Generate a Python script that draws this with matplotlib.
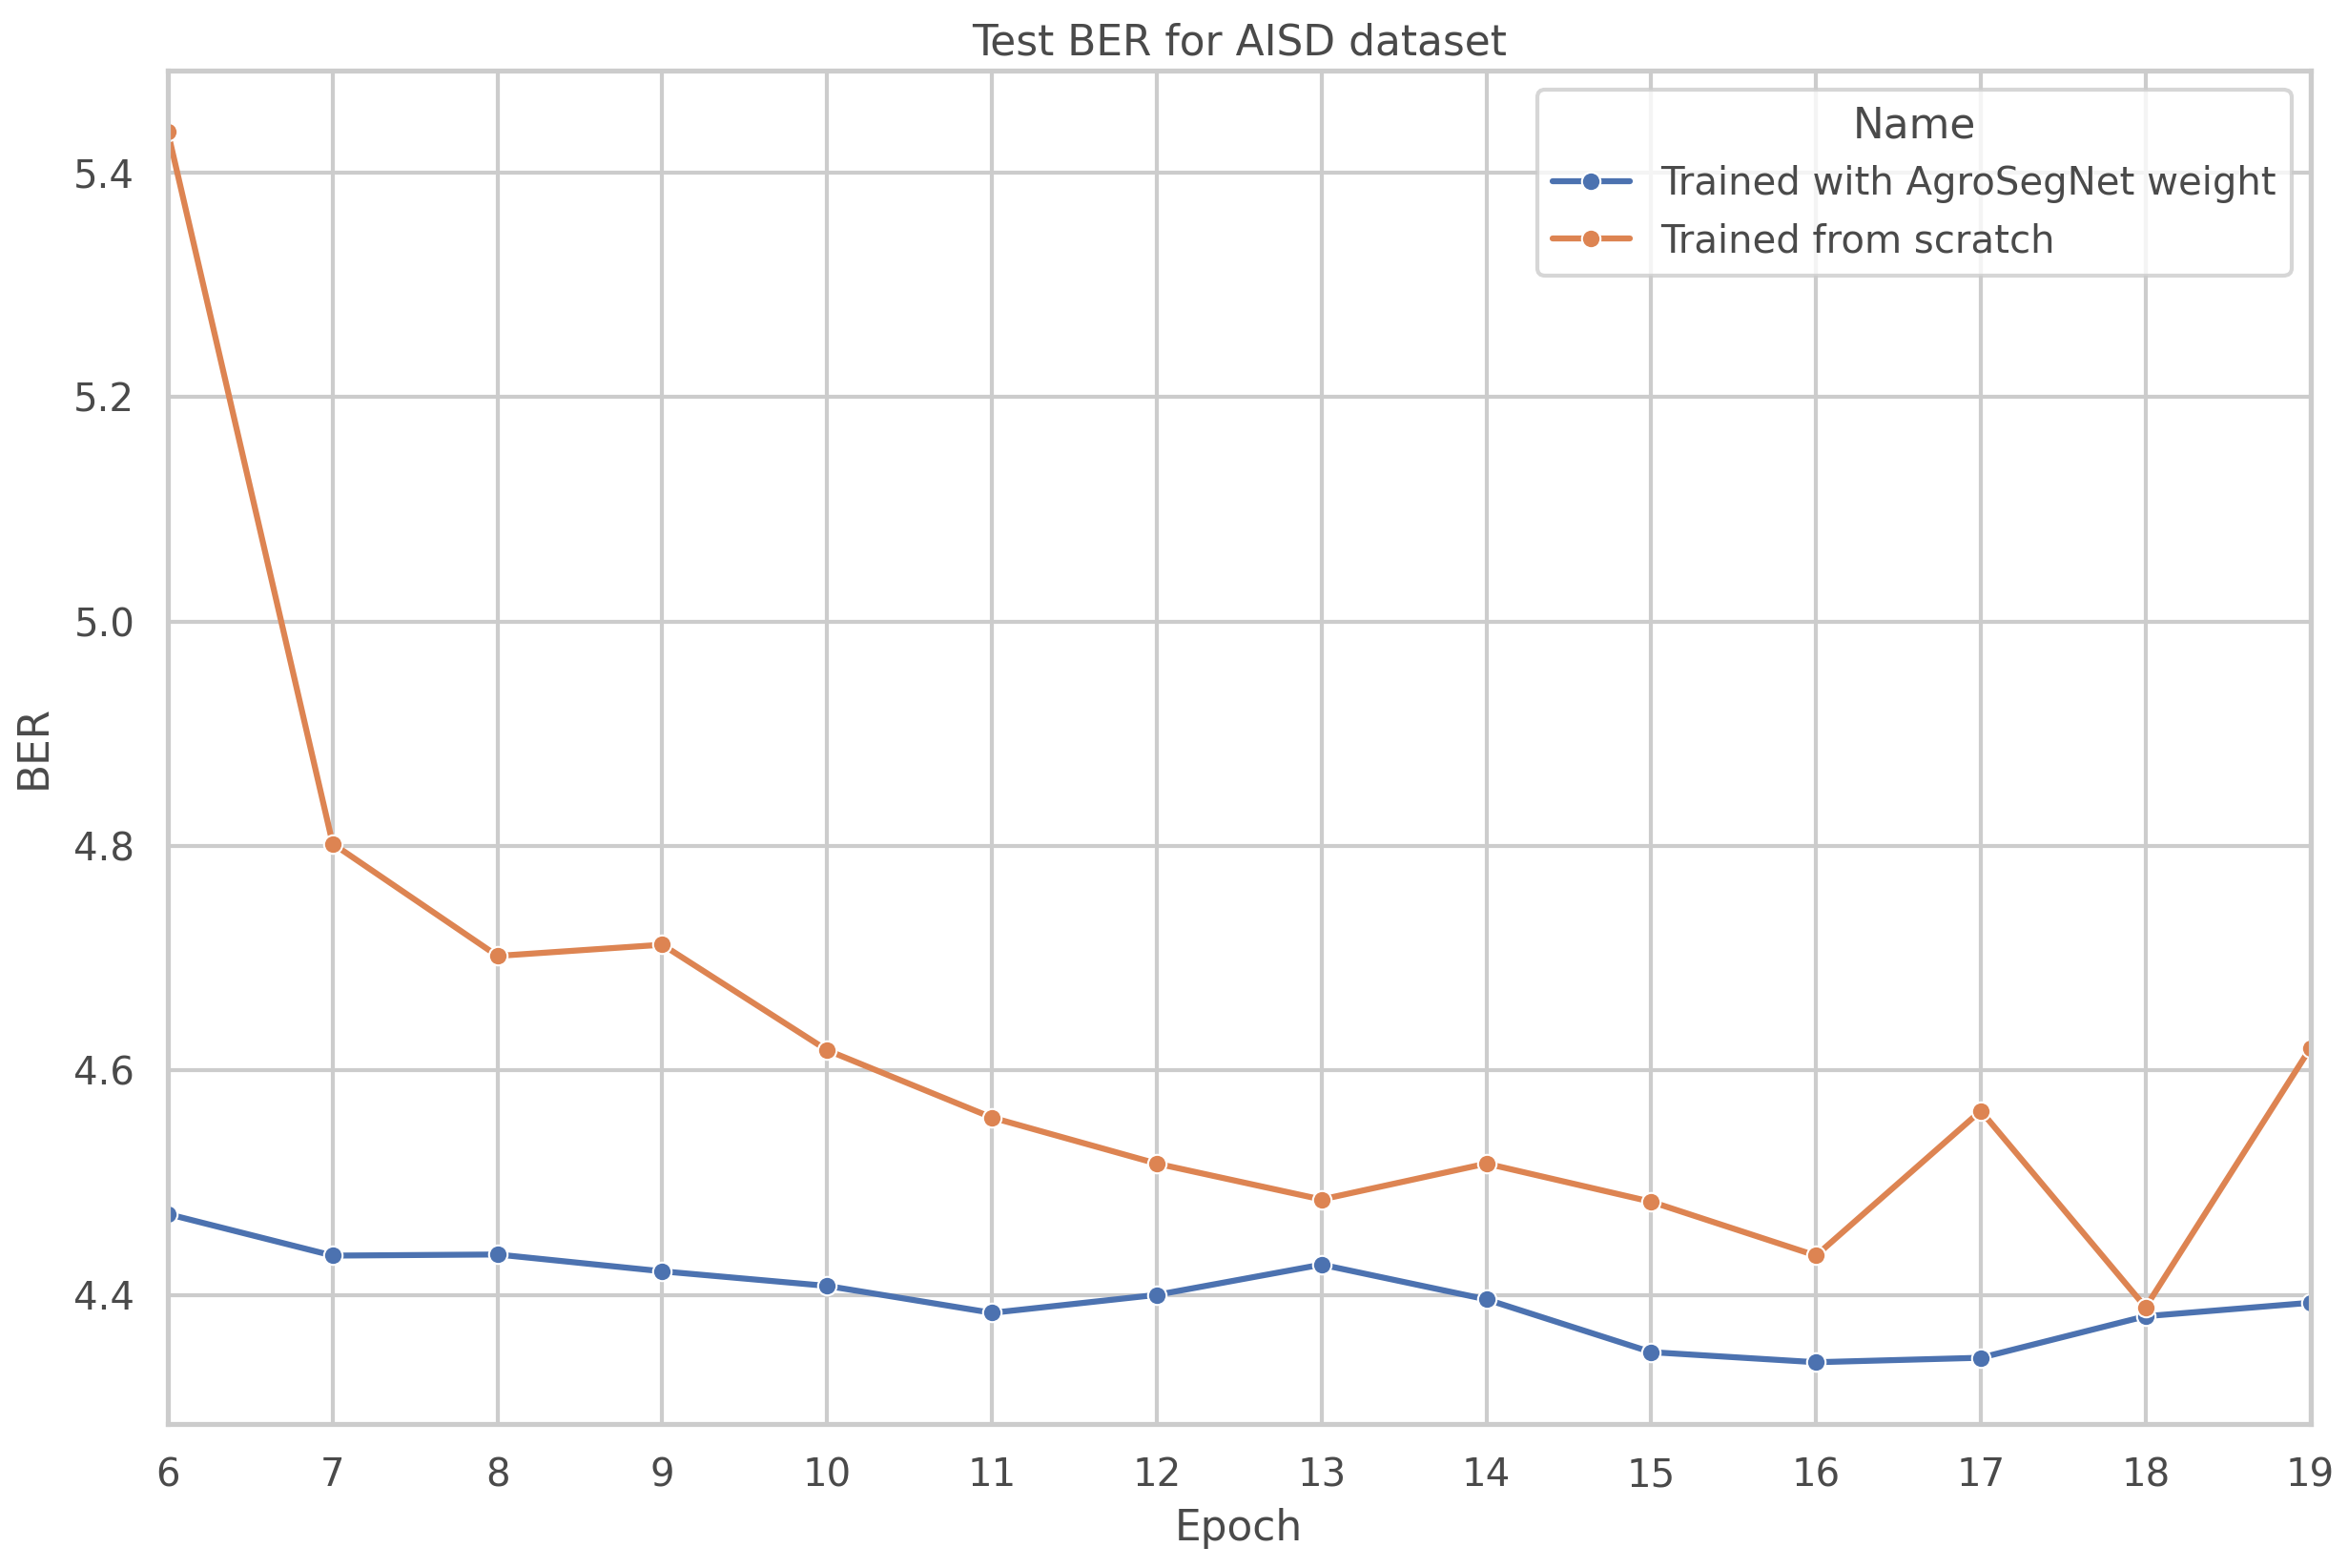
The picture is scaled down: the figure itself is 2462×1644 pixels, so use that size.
import matplotlib
matplotlib.use('Agg')
import matplotlib.pyplot as plt
import seaborn as sns
import pandas as pd

epochs = list(range(6, 20))
ber_agro = [4.472, 4.435, 4.436, 4.421, 4.408, 4.384, 4.400,
            4.427, 4.396, 4.349, 4.340, 4.344, 4.381, 4.393]
ber_scratch = [5.436, 4.802, 4.702, 4.712, 4.618, 4.558, 4.517,
               4.485, 4.517, 4.483, 4.435, 4.564, 4.389, 4.620]
names = ["Trained with AgroSegNet weight", "Trained from scratch"]

df = pd.DataFrame({
    "Epoch": epochs * 2,
    "BER": ber_agro + ber_scratch,
    "Name": [names[0]] * len(epochs) + [names[1]] * len(epochs),
})

txt = "#4a4a4a"
sns.set_theme(style="whitegrid", context="talk", font_scale=0.877,
              rc={"text.color": txt, "axes.labelcolor": txt,
                  "xtick.color": txt, "ytick.color": txt,
                  "lines.markersize": 7})

fig, ax = plt.subplots(figsize=(12.31, 8.22), dpi=200)
fig.subplots_adjust(left=0.0715, right=0.984, top=0.955, bottom=0.092)

sns.lineplot(data=df, x="Epoch", y="BER", hue="Name", marker="o", ax=ax)
ax.set_xlim(6, 19)
ax.set_xticks(epochs)
ax.set_title("Test BER for AISD dataset")
ax.set_ylabel("BER", labelpad=7.5)
ax.set_xlabel("Epoch", labelpad=5)

fig.savefig("out.png", dpi=200)
